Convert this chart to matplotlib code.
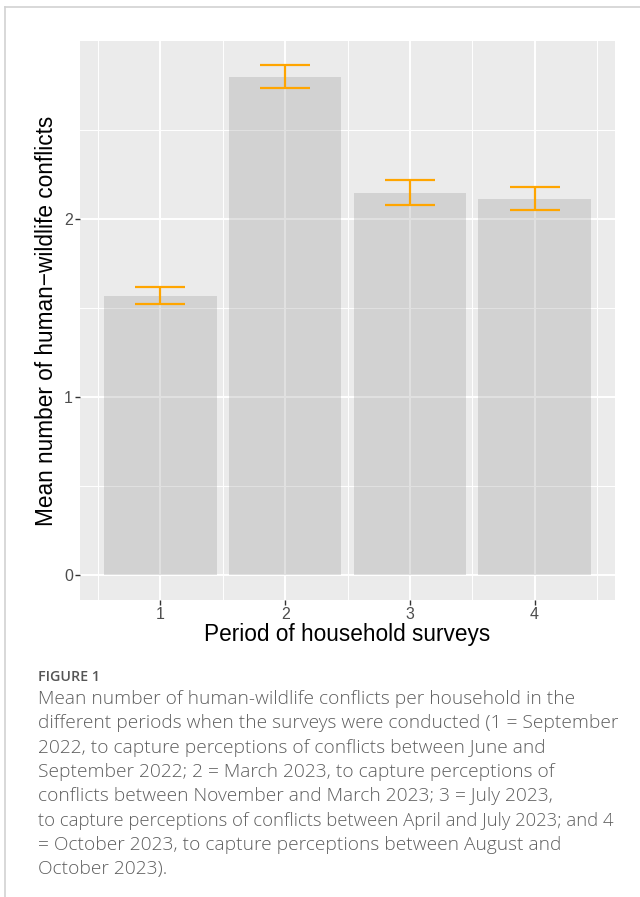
import matplotlib
matplotlib.use("Agg")
import matplotlib.pyplot as plt
from matplotlib.lines import Line2D

# Survey periods and household conflict summaries
periods = [1, 2, 3, 4]
mean_conflicts = [1.566, 2.798, 2.145, 2.113]
std_error = [0.047, 0.065, 0.071, 0.067]
x_tick_labels = ["1", "2", "3", "4"]
y_ticks = [0, 1, 2]

caption_head = "FIGURE 1"
caption_lines = [
    "Mean number of human-wildlife conflicts per household in the",
    "different periods when the surveys were conducted (1 = September",
    "2022, to capture perceptions of conflicts between June and",
    "September 2022; 2 = March 2023, to capture perceptions of",
    "conflicts between November and March 2023; 3 = July 2023,",
    "to capture perceptions of conflicts between April and July 2023; and 4",
    "= October 2023, to capture perceptions between August and",
    "October 2023).",
]
# the justified sixth line is set tighter than the rest
caption_sizes = [13.8, 13.8, 13.8, 13.8, 13.8, 13.3, 13.8, 13.8]

W, H = 640, 897
fig = plt.figure(figsize=(W / 100, H / 100), dpi=100)
fig.patch.set_facecolor("white")

# page frame (top and left rules)
fig.add_artist(Line2D([5 / W, 1.0], [1 - 7.5 / H, 1 - 7.5 / H],
                      transform=fig.transFigure, color="#d2d2d2", lw=1.2))
fig.add_artist(Line2D([5 / W, 5 / W], [0, 1 - 7.5 / H],
                      transform=fig.transFigure, color="#d2d2d2", lw=1.2))

# plotting panel
left, right, top, bottom = 80, 615, 41, 600
ax = fig.add_axes([left / W, 1 - bottom / H, (right - left) / W, (bottom - top) / H])
ax.set_facecolor("#ebebeb")
for s in ax.spines.values():
    s.set_visible(False)

ax.set_xlim(0.355, 4.645)
ax.set_ylim(-0.143, 2.998)

# grid lines
for yv in [0.5, 1.5, 2.5]:
    ax.axhline(yv, color="white", lw=0.7, zorder=0)
for yv in y_ticks:
    ax.axhline(yv, color="white", lw=1.4, zorder=0)
for xv in [0.5, 1.5, 2.5, 3.5, 4.5]:
    ax.axvline(xv, color="white", lw=0.7, zorder=0)
for xv in periods:
    ax.axvline(xv, color="white", lw=1.4, zorder=0)

# bars
ax.bar(periods, mean_conflicts, width=0.9, color="#7f7f7f", alpha=0.23,
       linewidth=0, zorder=2)

# error bars
lower = [m - e for m, e in zip(mean_conflicts, std_error)]
upper = [m + e for m, e in zip(mean_conflicts, std_error)]
ax.vlines(periods, lower, upper, color="#FFA500", lw=1.6, zorder=3)
ax.hlines(lower, [p - 0.2 for p in periods], [p + 0.2 for p in periods],
          color="#FFA500", lw=1.6, zorder=3)
ax.hlines(upper, [p - 0.2 for p in periods], [p + 0.2 for p in periods],
          color="#FFA500", lw=1.6, zorder=3)

ax.set_xticks(periods)
ax.set_xticklabels(x_tick_labels)
ax.set_yticks(y_ticks)
ax.set_yticklabels([str(v) for v in y_ticks])
ax.tick_params(axis="both", length=3.5, width=1.0, color="#333333",
               labelcolor="#4d4d4d", labelsize=11.5, pad=1.5)
for lab in ax.get_xticklabels() + ax.get_yticklabels():
    lab.set_family("Liberation Sans")

fig.text((left + right) / 2 / W, 1 - 634 / H, "Period of household surveys",
         ha="center", va="center", fontsize=16.3, family="Liberation Sans",
         color="black")
fig.text(47 / W, 1 - (top + bottom) / 2 / H,
         "Mean number of human\u2212wildlife conflicts",
         ha="center", va="center", rotation=90, fontsize=16.3,
         family="Liberation Sans", color="black")

# caption
fig.text(38 / W, 1 - 677 / H, caption_head, ha="left", va="center",
         fontsize=10.3, family="Open Sans", fontweight="semibold", color="#555555")
y0, dy = 699, 24.3
for i, (line, fs) in enumerate(zip(caption_lines, caption_sizes)):
    fig.text(38 / W, 1 - (y0 + i * dy) / H, line, ha="left", va="center",
             fontsize=fs, family="Open Sans", fontweight="light", color="#5e5e5e")

fig.savefig("out.png", dpi=100, facecolor="white")
